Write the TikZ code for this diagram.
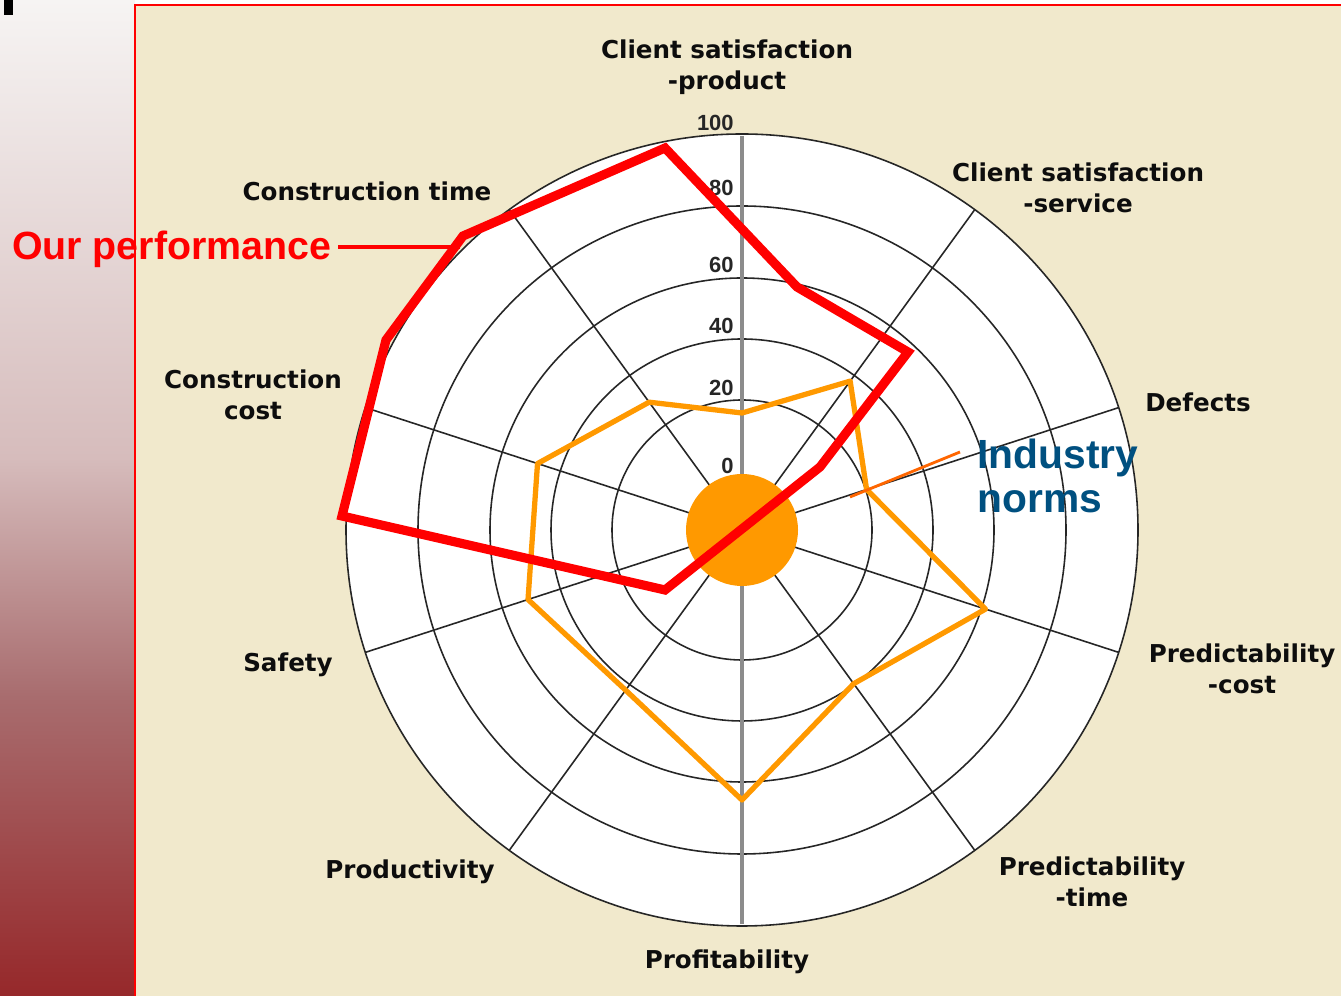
\documentclass[tikz,border=0pt]{standalone}
\usepackage{fontspec}
\usepackage{tikz}
\usetikzlibrary{positioning}

\newfontfamily\chartfont{DejaVu Sans}
\newfontfamily\notefont{Liberation Sans}

\definecolor{paper}{RGB}{241,233,204}
\definecolor{normorange}{RGB}{255,153,0}
\definecolor{leadorange}{RGB}{255,102,0}
\definecolor{normblue}{RGB}{0,80,128}
\definecolor{axisgrey}{RGB}{140,140,140}
\definecolor{barlight}{RGB}{246,244,243}
\definecolor{barmid}{RGB}{214,188,188}
\definecolor{barlow}{RGB}{168,108,110}
\definecolor{bardark}{RGB}{150,40,42}

\pgfdeclareverticalshading{sidebar}{100bp}{color(0bp)=(bardark); color(25bp)=(bardark); color(40bp)=(barlow); color(52bp)=(barmid); color(75bp)=(barlight); color(100bp)=(barlight)}

\begin{document}
\begin{tikzpicture}[x=0.02cm,y=0.02cm]
\tikzstyle{axislabel}=[font=\chartfont\bfseries\fontsize{14}{17.5}\selectfont,align=center,inner sep=0pt,text=black!95]
\tikzstyle{ringnum}=[font=\notefont\bfseries\fontsize{12.5}{15}\selectfont,anchor=east,inner sep=0pt,text=black!85]
\tikzstyle{ring}=[draw=black!85,line width=0.9pt]
\tikzstyle{spoke}=[draw=black!85,line width=0.9pt]
\tikzstyle{midaxis}=[draw=axisgrey,line width=1.9pt]
\tikzstyle{perfline}=[draw=red,line width=5.2pt,line join=miter]
\tikzstyle{normline}=[draw=normorange,line width=3pt,line join=round]
\tikzstyle{perflabel}=[font=\notefont\bfseries\fontsize{22.4}{24.5}\selectfont,text=red,inner sep=0pt,outer xsep=4pt]
\tikzstyle{normlabel}=[font=\notefont\bfseries\fontsize{23.2}{25}\selectfont,text=normblue,inner sep=0pt,align=left]

\useasboundingbox (0,0) rectangle (1341,996);

%% Slide background
\shade[shading=sidebar] (0,0) rectangle (135,996);
\fill[black] (4,981) rectangle (13,996);
\fill[paper] (135,0) rectangle (1341,991);
\draw[red,line width=1.2pt] (135,-5) -- (135,991) -- (1346,991);

%% Radar grid
\coordinate (hub) at (742,466);
\begin{scope}[shift={(hub)}]
    \fill[white] (0,0) circle (396);
    \foreach \r in {130,191,252,324,396}
        \draw[ring] (0,0) circle (\r);
    \foreach \a in {18,54,126,162}
        \draw[spoke] (\a:396) -- (\a+180:396);
    \draw[midaxis] (90:394) -- (270:394);

    %% Industry norms
    \draw[normline] (90:117) -- (54:184) -- (18:131) -- (-18:256) -- (-54:190)
        -- (-90:270) -- (-126:198) -- (-162:225) -- (162:215) -- (126:158) -- cycle;
    \fill[normorange] (0,0) circle (56);
\end{scope}

%% Scale
\node[ringnum] (n100) at (734,873) {100};
\node[ringnum] (n80) at (734,808) {80};
\node[ringnum] (n60) at (734,731) {60};
\node[ringnum] (n40) at (734,670) {40};
\node[ringnum] (n20) at (734,608) {20};
\node[ringnum] (n0) at (734,530) {0};

%% Our performance
\draw[perfline] (665,848) -- (797,709) -- (908,644) -- (820,529) -- (665,406)
    -- (342,480) -- (386,656) -- (463,760) -- cycle;

%% Axis names
\node[axislabel] (cprod) at (727,929) {Client satisfaction\\-product};
\node[axislabel] (cserv) at (1078,808) {Client satisfaction\\-service};
\node[axislabel,anchor=base] (defects) at (1198,584) {Defects};
\node[axislabel] (pcost) at (1242,327) {Predictability\\-cost};
\node[axislabel] (ptime) at (1092,114) {Predictability\\-time};
\node[axislabel,anchor=base] (profit) at (727,27) {Profitability};
\node[axislabel,anchor=base] (prod) at (410,117) {Productivity};
\node[axislabel,anchor=base] (safety) at (288,324) {Safety};
\node[axislabel] (ccost) at (253,601) {Construction\\cost};
\node[axislabel,anchor=base] (ctime) at (367,795) {Construction time};

%% Callouts
\node[perflabel,anchor=base west] (perf) at (5,736) {Our performance};
\coordinate (perf-pt) at (460,749);
\draw[red,line width=1.8pt] (perf.east |- perf-pt) -- (perf-pt);

\node[normlabel,anchor=north west] (norms) at (977,557) {Industry\\norms};
\coordinate (norm-pt) at (850,499);
\coordinate (norm-end) at (960,544);
\draw[leadorange,line width=1.6pt] (norm-pt) -- (norm-end);

\end{tikzpicture}
\end{document}
